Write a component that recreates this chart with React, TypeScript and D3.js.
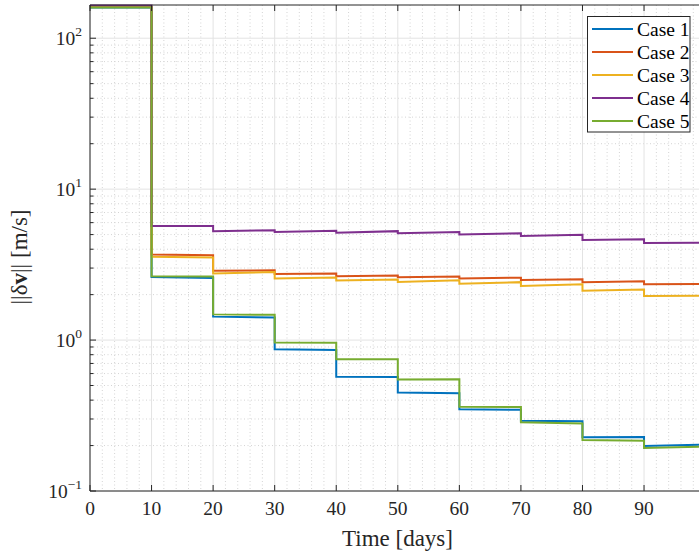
import React from "react";
import * as d3 from "d3";

const segStarts = [0, 10, 20, 30, 40, 50, 60, 70, 80, 90];
const segLen = 10;
const caseNames = ["Case 1", "Case 2", "Case 3", "Case 4", "Case 5"];
const caseColors = ["#0072BD", "#D95319", "#EDB120", "#7E2F8E", "#77AC30"];

const case1Start = [160, 2.62, 1.43, 0.868, 0.571, 0.45, 0.348, 0.292, 0.227, 0.199];
const case1End = [160, 2.58, 1.41, 0.86, 0.57, 0.445, 0.345, 0.29, 0.228, 0.203];
const case2Start = [161, 3.69, 2.88, 2.74, 2.65, 2.61, 2.56, 2.5, 2.42, 2.34];
const case2End = [161, 3.65, 2.9, 2.76, 2.68, 2.64, 2.59, 2.53, 2.45, 2.35];
const case3Start = [161, 3.56, 2.76, 2.56, 2.48, 2.43, 2.36, 2.28, 2.12, 1.96];
const case3End = [161, 3.53, 2.82, 2.6, 2.52, 2.49, 2.42, 2.34, 2.16, 1.97];
const case4Start = [165, 5.69, 5.27, 5.2, 5.15, 5.1, 5.0, 4.9, 4.6, 4.4];
const case4End = [165, 5.69, 5.35, 5.3, 5.27, 5.2, 5.1, 4.98, 4.66, 4.42];
const case5Start = [160, 2.65, 1.48, 0.965, 0.745, 0.549, 0.362, 0.285, 0.218, 0.193];
const case5End = [160, 2.64, 1.47, 0.96, 0.745, 0.55, 0.36, 0.28, 0.215, 0.197];

const xTicks = [0, 10, 20, 30, 40, 50, 60, 70, 80, 90];
const yDecades = [-1, 0, 1, 2];

const starts = [case1Start, case2Start, case3Start, case4Start, case5Start];
const ends = [case1End, case2End, case3End, case4End, case5End];

const W = 699;
const H = 554;
const left = 90;
const right = 705.6;
const top = 5;
const bottom = 491;
const FONT = "'Liberation Serif', 'Times New Roman', serif";
const AX = "#262626";

export default function App() {
  const x = d3.scaleLinear().domain([0, 100]).range([left, right]);
  const y = d3.scaleLog().domain([0.1, 166]).range([bottom, top]);

  const series = starts.map((s, ci) => {
    const pts: [number, number][] = [];
    segStarts.forEach((d, i) => {
      pts.push([d, s[i]]);
      pts.push([d + segLen, ends[ci][i]]);
    });
    return pts;
  });

  const line = d3
    .line<[number, number]>()
    .x((d) => x(d[0]))
    .y((d) => y(d[1]));

  const minorX = d3.range(0, 101, 2).filter((v) => v % 10 !== 0);
  const minorY: number[] = [];
  for (const e of [-1, 0, 1, 2]) {
    for (let m = 2; m <= 9; m++) {
      const v = m * Math.pow(10, e);
      if (v <= 166) minorY.push(v);
    }
  }

  return (
    <svg
      width={W}
      height={H}
      style={{ position: "absolute", left: 0, top: 0, background: "#fff" }}
      fontFamily={FONT}
    >
      <rect x={0} y={0} width={W} height={H} fill="#fff" />
      <defs>
        <clipPath id="plotClip">
          <rect x={left} y={top - 2} width={right - left} height={bottom - top + 4} />
        </clipPath>
      </defs>
      {/* minor grid */}
      <g stroke="#d4d4d4" strokeWidth={1} strokeDasharray="1,2.5">
        {minorX.map((v) => (
          <line key={"mx" + v} x1={x(v)} x2={x(v)} y1={top} y2={bottom} />
        ))}
        {minorY.map((v) => (
          <line key={"my" + v} x1={left} x2={right} y1={y(v)} y2={y(v)} />
        ))}
      </g>
      {/* major grid */}
      <g stroke="#e3e3e3" strokeWidth={1}>
        {xTicks.concat([100]).map((v) => (
          <line key={"gx" + v} x1={x(v)} x2={x(v)} y1={top} y2={bottom} />
        ))}
        {yDecades.map((e) => (
          <line key={"gy" + e} x1={left} x2={right} y1={y(Math.pow(10, e))} y2={y(Math.pow(10, e))} />
        ))}
      </g>
      {/* data */}
      <g clipPath="url(#plotClip)" fill="none" strokeWidth={2} strokeLinejoin="miter">
        {series.map((pts, i) => (
          <path key={i} d={line(pts) || ""} stroke={caseColors[i]} />
        ))}
      </g>
      {/* axes box */}
      <g stroke={AX} strokeWidth={1} fill="none">
        <line x1={left} x2={right} y1={bottom} y2={bottom} />
        <line x1={left} x2={right} y1={top} y2={top} />
        <line x1={left} x2={left} y1={top} y2={bottom} />
        {xTicks.concat([100]).map((v) => (
          <g key={"tx" + v}>
            <line x1={x(v)} x2={x(v)} y1={bottom} y2={bottom - 6} />
            <line x1={x(v)} x2={x(v)} y1={top} y2={top + 6} />
          </g>
        ))}
        {yDecades.map((e) => (
          <line key={"ty" + e} x1={left} x2={left + 6} y1={y(Math.pow(10, e))} y2={y(Math.pow(10, e))} />
        ))}
        {minorY.map((v) => (
          <line key={"tmy" + v} x1={left} x2={left + 3.5} y1={y(v)} y2={y(v)} />
        ))}
      </g>
      {/* x tick labels */}
      <g fill={AX} fontSize={19.5} textAnchor="middle">
        {xTicks.map((v) => (
          <text key={"lx" + v} x={x(v)} y={515}>
            {v}
          </text>
        ))}
      </g>
      {/* y tick labels */}
      <g fill={AX} fontSize={19.5} textAnchor="end">
        {yDecades.map((e) => (
          <text key={"ly" + e} x={82} y={y(Math.pow(10, e)) + 7}>
            10
            <tspan dy={-9} fontSize={13.5}>
              {e < 0 ? "\u2212" + Math.abs(e) : String(e)}
            </tspan>
          </text>
        ))}
      </g>
      {/* axis labels */}
      <text x={(left + 699) / 2 + 3} y={546} textAnchor="middle" fontSize={23} fill={AX}>
        Time [days]
      </text>
      <text
        transform={`translate(27, ${(top + bottom) / 2 + 9}) rotate(-90)`}
        textAnchor="middle"
        fontSize={23}
        fill={AX}
      >
        ||δ<tspan fontWeight="bold">v</tspan>|| [m/s]
      </text>
      {/* legend */}
      <g>
        <rect x={587.5} y={16.5} width={102.5} height={115.5} fill="#fff" stroke={AX} strokeWidth={1} />
        {caseNames.map((n, i) => (
          <g key={n}>
            <line x1={592} x2={633} y1={29 + i * 23} y2={29 + i * 23} stroke={caseColors[i]} strokeWidth={2} />
            <text x={637} y={29 + i * 23 + 6.5} fontSize={19.5} fill="#000">
              {n}
            </text>
          </g>
        ))}
      </g>
    </svg>
  );
}
